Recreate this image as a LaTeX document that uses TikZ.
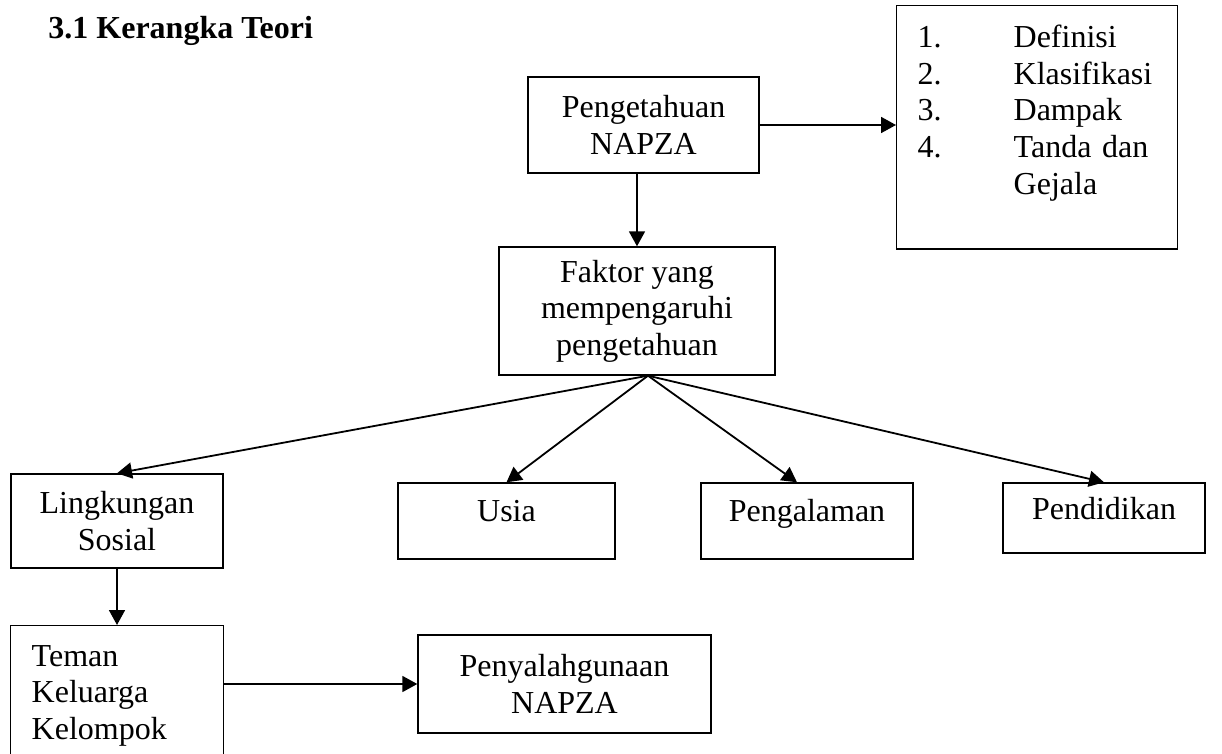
\documentclass[tikz,border=0pt]{standalone}
\usepackage{fontspec}
\setmainfont{Liberation Serif}
\usetikzlibrary{positioning,arrows.meta,calc}

\tikzset{
    ktBox/.style={
        rectangle,
        draw,
        line width=0.7pt,
        align=center,
        inner sep=2pt,
        font=\fontsize{16}{18.3}\selectfont
    },
    ktSingle/.style={ktBox, text height=1pt, text depth=0pt},
    ktArrow/.style={-{Triangle[length=7.5pt,width=8pt]}, line width=0.9pt}
}

\begin{document}
\begin{tikzpicture}[x=0.5pt,y=-0.5pt]
    \useasboundingbox (0,0) rectangle (1222,754);

    % Title
    \node[anchor=base west, inner sep=0pt, font=\fontsize{16}{18}\selectfont\bfseries] (judul) at (48,39) {3.1 Kerangka Teori};

    % Top row
    \node[ktBox, minimum width=115.5pt, minimum height=48pt] (pengetahuan) at (643.5,125) {Pengetahuan\\NAPZA};
    \node[ktBox, anchor=north west, minimum width=140.5pt, minimum height=121.5pt, text width=140.5pt, align=left, inner sep=0pt] (ciri) at (896,5)
        {\hspace*{10.5pt}\begin{tabular}{@{}p{36pt}@{\hspace{12pt}}l@{}}
        \rule{0pt}{21pt}1. & Definisi\\
        2. & Klasifikasi\\
        3. & Dampak\\
        4. & Tanda dan\\
           & Gejala\\[22pt]
        \end{tabular}};

    % Factor box
    \node[ktBox, minimum width=138pt, minimum height=64pt] (faktor) at (637,311) {Faktor yang\\mempengaruhi\\pengetahuan};
    \coordinate (fan) at ($(faktor.south)+(11,0)$);

    % Factor row
    \node[ktBox, minimum width=106pt, minimum height=47pt] (lingkungan) at (117,521) {Lingkungan\\Sosial};
    \node[ktSingle, minimum width=108.5pt, minimum height=38pt] (usia) at (506.5,521) {Usia};
    \node[ktSingle, minimum width=106pt, minimum height=38pt] (pengalaman) at (807,521) {Pengalaman};
    \node[ktSingle, minimum width=101pt, minimum height=35pt] (pendidikan) at (1104,518) {Pendidikan};

    % Bottom row
    \node[ktBox, anchor=north west, minimum width=106.5pt, minimum height=77.5pt, text width=106.5pt, align=left, inner sep=0pt] (teman) at (10,625)
        {\hspace*{10.5pt}\begin{tabular}{@{}l@{}}
        \rule{0pt}{20pt}Teman\\
        Keluarga\\
        Kelompok\\[15pt]
        \end{tabular}};
    \node[ktBox, minimum width=146.5pt, minimum height=49pt] (penyalahgunaan) at (564.5,684) {Penyalahgunaan\\NAPZA};

    % Connections
    \draw[ktArrow] (pengetahuan.east) -- (ciri.west |- pengetahuan.east);
    \draw[ktArrow] (faktor.north |- pengetahuan.south) -- (faktor.north);
    \draw[ktArrow] (fan) -- (lingkungan.north);
    \draw[ktArrow] (fan) -- (usia.north);
    \draw[ktArrow] (fan) -- ($(pengalaman.north)+(-10,0)$);
    \draw[ktArrow] (fan) -- (pendidikan.north);
    \draw[ktArrow] (lingkungan.south) -- (lingkungan.south |- teman.north);
    \draw[ktArrow] (teman.east |- penyalahgunaan.west) -- (penyalahgunaan.west);
\end{tikzpicture}
\end{document}
